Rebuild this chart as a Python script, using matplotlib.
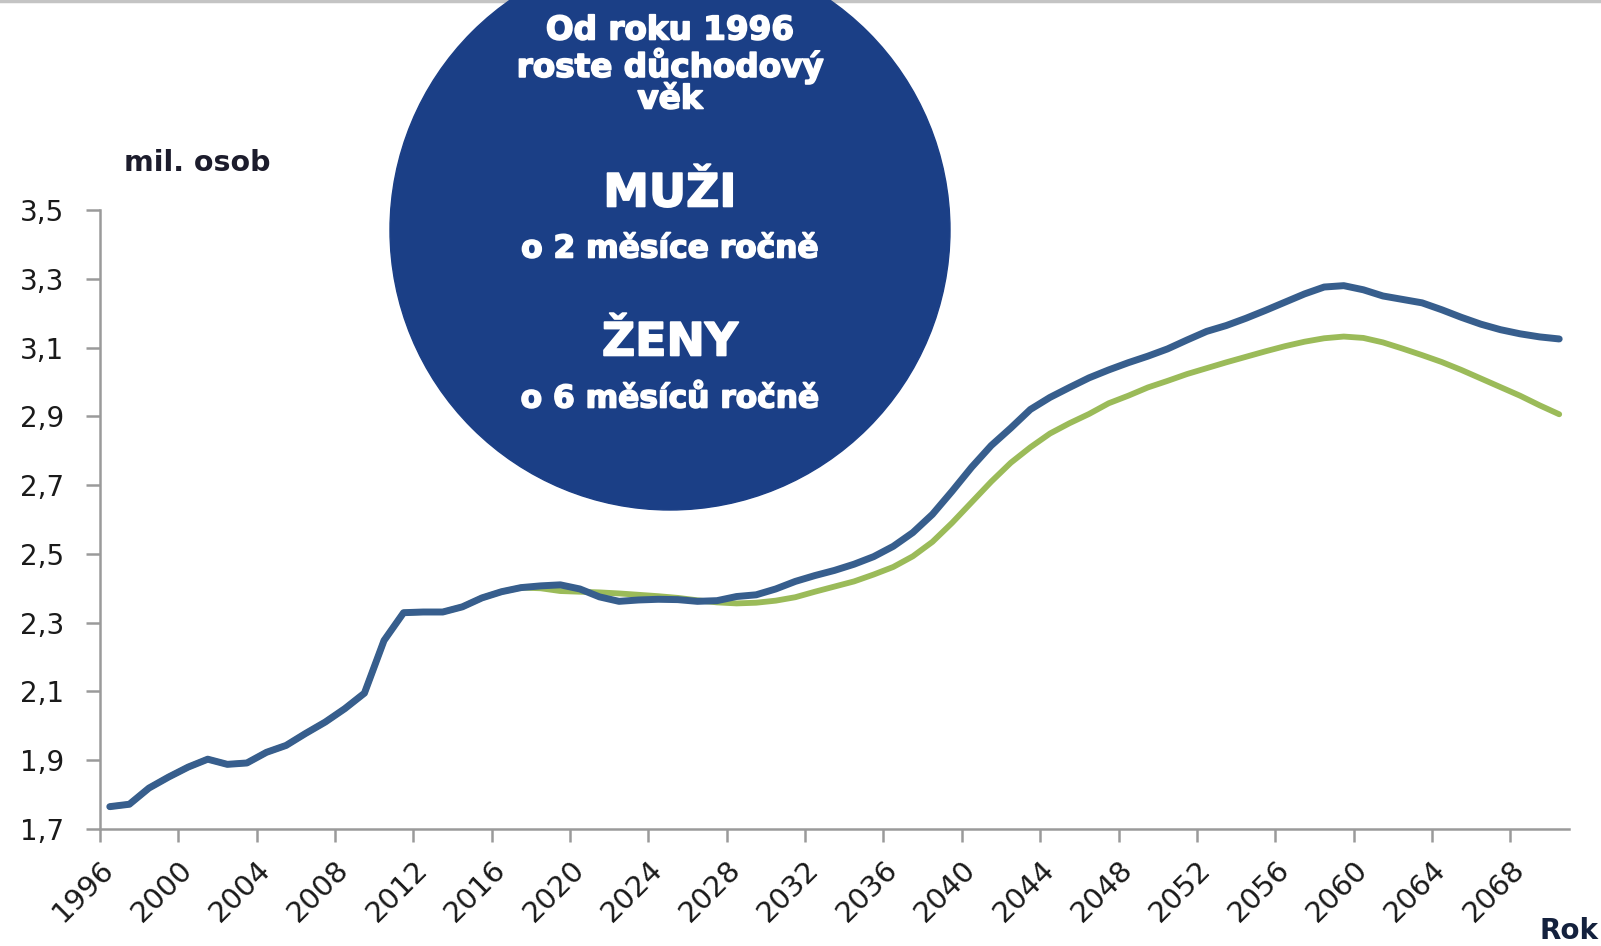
from matplotlib import pyplot as plt
from matplotlib.patches import Ellipse
import matplotlib.patheffects as pe
import numpy as np

# roky 1996-2070
years = np.arange(1996, 2071)

# modrá řada (mil. osob)
blue = [1.765, 1.772, 1.819, 1.851, 1.880, 1.903, 1.888, 1.892, 1.923, 1.943,
        1.978, 2.011, 2.050, 2.095, 2.248, 2.329, 2.331, 2.331, 2.346, 2.372,
        2.390, 2.402, 2.407, 2.410, 2.398, 2.375, 2.362, 2.366, 2.368, 2.367,
        2.362, 2.364, 2.376, 2.381, 2.398, 2.420, 2.437, 2.452, 2.470, 2.492,
        2.522, 2.562, 2.615, 2.682, 2.752, 2.815, 2.866, 2.920, 2.955, 2.984,
        3.012, 3.035, 3.056, 3.075, 3.096, 3.122, 3.147, 3.164, 3.185, 3.208,
        3.232, 3.256, 3.276, 3.280, 3.268, 3.250, 3.240, 3.230, 3.210, 3.188,
        3.168, 3.152, 3.140, 3.131, 3.125]

# zelená řada (mil. osob)
green = [1.765, 1.772, 1.819, 1.851, 1.880, 1.903, 1.888, 1.892, 1.923, 1.943,
         1.978, 2.011, 2.050, 2.095, 2.248, 2.329, 2.331, 2.331, 2.346, 2.372,
         2.390, 2.402, 2.400, 2.392, 2.390, 2.388, 2.385, 2.381, 2.377, 2.372,
         2.365, 2.359, 2.356, 2.358, 2.364, 2.374, 2.390, 2.405, 2.420, 2.440,
         2.462, 2.493, 2.535, 2.590, 2.650, 2.710, 2.765, 2.810, 2.850, 2.880,
         2.907, 2.938, 2.960, 2.984, 3.003, 3.023, 3.040, 3.057, 3.073, 3.089,
         3.104, 3.117, 3.127, 3.132, 3.128, 3.115, 3.097, 3.078, 3.058, 3.035,
         3.010, 2.985, 2.960, 2.932, 2.906]

tick_years = np.arange(1996, 2071, 4)
y_ticks = [1.7, 1.9, 2.1, 2.3, 2.5, 2.7, 2.9, 3.1, 3.3, 3.5]
y_labels = [('%.1f' % v).replace('.', ',') for v in y_ticks]

circle_lines = [
  ('Od roku 1996', 23.5, 30),
  ('roste důchodový', 23.5, 65),
  ('věk', 23.5, 99),
  ('MUŽI', 33, 194),
  ('o 2 měsíce ročně', 22.5, 249),
  ('ŽENY', 33, 343),
  ('o 6 měsíců ročně', 22.5, 399),
]


def main():
  W, H = 1601, 946
  fig = plt.figure(figsize=(W / 100, H / 100), dpi=100)
  ax = fig.add_axes([100 / W, 1 - 829 / H, (1569 - 100) / W, (829 - 210) / H])

  ax.plot(years, green, color='#9bbb59', lw=4.2, solid_capstyle='round', zorder=2)
  ax.plot(years, blue, color='#375e8d', lw=5.0, solid_capstyle='round', zorder=3)

  ax.set_xlim(years[0] - 0.5, years[-1] + 0.5)
  ax.set_ylim(1.7, 3.5)
  ax.set_yticks(y_ticks)
  ax.set_yticklabels(y_labels, fontsize=20, color='#1a1a1a')
  ax.set_xticks(tick_years - 0.5)
  ax.set_xticklabels([str(y) for y in tick_years], fontsize=21, color='#1a1a1a',
                     rotation=45, ha='right', va='top', rotation_mode='anchor')

  for s in ['top', 'right']:
    ax.spines[s].set_visible(False)
  for s in ['left', 'bottom']:
    ax.spines[s].set_color('#9a9a9a')
    ax.spines[s].set_linewidth(1.8)
  ax.tick_params(axis='y', length=10, width=1.8, color='#9a9a9a', pad=16)
  ax.tick_params(axis='x', length=9, width=1.8, color='#9a9a9a', pad=10)

  fig.text(124 / W, 1 - 163 / H, 'mil. osob', fontsize=20.5, fontweight='bold',
           color='#1c1c2c', ha='left', va='center')
  fig.text(1598 / W, 1 - 931 / H, 'Rok', fontsize=20, fontweight='bold',
           color='#14213d', ha='right', va='center')

  # šedá linka nahoře
  fig.add_artist(plt.Line2D([0, 1], [1 - 1.5 / H, 1 - 1.5 / H], color='#c4c4c4',
                            lw=2.5, transform=fig.transFigure, zorder=1))

  # kruh s textem
  fig.add_artist(Ellipse((670 / W, 1 - 230 / H), 560 / W, 560 / H,
                         transform=fig.transFigure, color='#1b3f86', zorder=5))
  for txt, size, ypix in circle_lines:
    fig.text(670 / W, 1 - ypix / H, txt, fontsize=size, fontweight='bold',
             family='DejaVu Sans', color='white', ha='center', va='center', zorder=6,
             path_effects=[pe.withStroke(linewidth=1.2, foreground='white')])

  fig.savefig('out.png', dpi=100)


if __name__ == '__main__':
  main()
